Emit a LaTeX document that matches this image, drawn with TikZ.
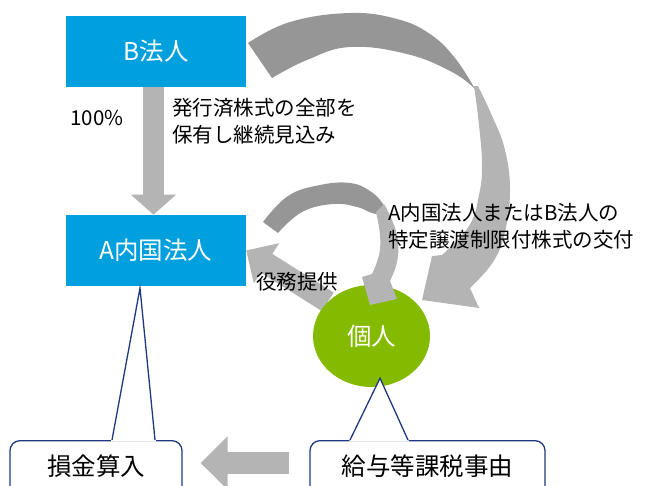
\documentclass[tikz,border=0pt]{standalone}
\usepackage{fontspec}
\setmainfont{Noto Sans CJK JP}
\usetikzlibrary{arrows.meta,calc,positioning,shapes.geometric,backgrounds}
\definecolor{corpblue}{RGB}{0,160,222}
\definecolor{persongreen}{RGB}{132,187,0}
\definecolor{flowgray}{RGB}{180,180,180}
\definecolor{backgray}{RGB}{150,150,150}
\definecolor{linenavy}{RGB}{31,56,128}

\begin{document}
\begin{tikzpicture}[x=1pt,y=-1pt,
	corp/.style={rectangle, fill=corpblue, text=white, minimum width=180pt, minimum height=71pt, font=\fontsize{24.5}{28}\selectfont},
	person/.style={ellipse, fill=persongreen, text=white, minimum width=117pt, minimum height=102pt, inner sep=0pt, font=\fontsize{24.5}{28}\selectfont},
	note/.style={inner sep=0pt, align=left, font=\fontsize{20.5}{27}\selectfont},
	bubble/.style={draw=linenavy, line width=1.3pt, fill=white, rounded corners=10pt, anchor=north, text height=18pt, text depth=30pt, inner ysep=17pt, font=\fontsize{24.5}{28}\selectfont},
	bubbleline/.style={draw=linenavy, line width=1.3pt, line join=miter},
	block/.style={draw=flowgray, line width=#1, line cap=butt}]
	\useasboundingbox (0,0) rectangle (647,485);
	\clip (0,0) rectangle (647,485);
	\node[corp] (bcorp) at (156,51) {B法人};
	\node[corp, below=128pt of bcorp] (ainc) {A内国法人};
	\node[person] (indiv) at (371.5,336) {個人};
	\node[bubble, minimum width=172pt] (loss) at (96,440) {損金算入};
	\node[bubble, minimum width=235pt] (salary) at (427.5,440) {給与等課税事由};
	% callout pointers
	\fill[white] ($(loss.north)+(15,1.5)$) -- ($(ainc.south)+(-16,2)$) -- ($(loss.north)+(60,1.5)$) -- cycle;
	\draw[bubbleline] ($(loss.north)+(16,0)$) -- ($(ainc.south)+(-16,2)$) -- ($(loss.north)+(59,0)$);
	\fill[white] ($(salary.north)+(-78.5,1.5)$) -- ($(indiv.south)+(8.5,-9)$) -- ($(salary.north)+(-18.5,1.5)$) -- cycle;
	\draw[bubbleline] ($(salary.north)+(-77.5,0)$) -- ($(indiv.south)+(8.5,-9)$) -- ($(salary.north)+(-19.5,0)$);
	% straight arrows
	\draw[block=21pt, -{Triangle[length=20pt,width=44pt]}] ([xshift=-2.5pt]bcorp.south) -- ([xshift=-2.5pt]ainc.north);
	\draw[block=22pt, -{Triangle[length=27pt,width=52pt]}] ($(salary.north west)+(-20,23)$) -- ($(loss.north east)+(18,23)$);
	\begin{scope}[on background layer]
		\draw[block=22pt, -{Triangle[length=24pt,width=46pt]}] (indiv.142) -- (ainc.east);
	\end{scope}
	% curved arrows
	\fill[backgray] plot[smooth, tension=0.7] coordinates {(248,43) (290,22) (350,13) (397,19) (430,34) (455,58) (475,89)}
		-- plot[smooth, tension=0.7] coordinates {(475,89) (452,72) (407,54) (350,47) (307,60) (272,78)} -- cycle;
	\fill[flowgray] plot[smooth, tension=0.7] coordinates {(474,86) (479,125) (482,165) (479,195) (469,226) (442,255)}
		-- (432,256) -- (422,300) -- (479,308) -- (470,288)
		-- plot[smooth, tension=0.7] coordinates {(470,288) (493,262) (505,232) (510,190) (505,150) (493,118) (478,86)} -- cycle;
	\fill[backgray] plot[smooth, tension=0.7] coordinates {(263,222) (288,196) (320,185) (350,183) (370,191) (383,204) (387,216)}
		-- plot[smooth, tension=0.7] coordinates {(387,216) (372,213) (357,207) (333,204) (302,212) (278,233)} -- cycle;
	\fill[flowgray] plot[smooth, tension=0.7] coordinates {(376,212) (380,235) (379,255) (372,274)}
		-- (362,277) -- (370,305) -- (397,299) -- (390,281)
		-- plot[smooth, tension=0.7] coordinates {(390,281) (397,262) (398,240) (392,220) (384,204)} -- cycle;
	% labels
	\node[note] (pct) at (97,118) {100\%};
	\node[note, anchor=west] (hold) at (172,121.5) {発行済株式の全部を\\保有し継続見込み};
	\node[note, anchor=west] (grant) at (388,226.5) {A内国法人またはB法人の\\特定譲渡制限付株式の交付};
	\node[note] (service) at (297,282) {役務提供};
\end{tikzpicture}
\end{document}
